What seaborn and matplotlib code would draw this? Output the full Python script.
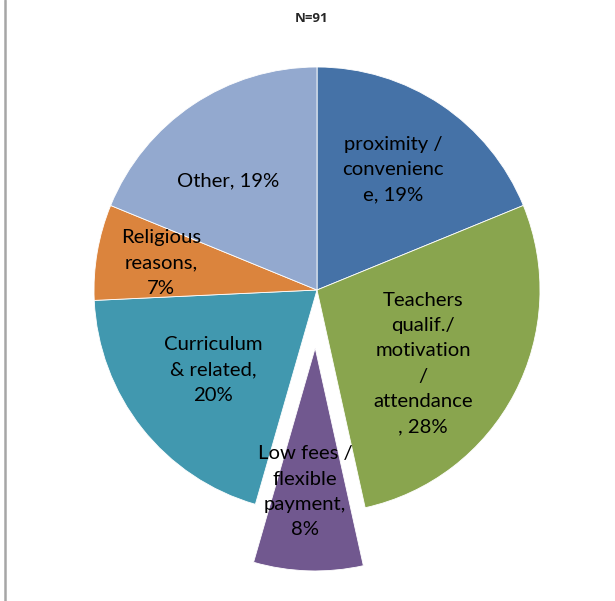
import matplotlib.pyplot as plt
import matplotlib.lines as mlines
import seaborn as sns

# Data
categories = ['proximity / convenience', 'Teachers qualif./ motivation / attendance',
              'Low fees / flexible payment', 'Curriculum & related',
              'Religious reasons', 'Other']
shares = [19, 28, 8, 20, 7, 19]
label_text = ['proximity /\nconvenienc\ne, 19%',
              'Teachers\nqualif./\nmotivation\n/\nattendance\n, 28%',
              'Low fees /\nflexible\npayment,\n8%',
              'Curriculum\n& related,\n20%',
              'Religious\nreasons,\n7%',
              'Other, 19%']
title = 'N=91'

sns.set_theme(style='white')
plt.rcParams['font.family'] = ['Lato', 'DejaVu Sans']

colors = sns.color_palette(['#4572A7', '#89A54E', '#71588F', '#4198AF', '#DB843D', '#93A9CF'])
explode = [0, 0, 0.26, 0, 0, 0]

# where each label sits, in units of the pie radius
label_pos = [(0.34, 0.54), (0.475, -0.33), (-0.054, -0.905),
             (-0.466, -0.36), (-0.70, 0.12), (-0.40, 0.49)]

fig = plt.figure(figsize=(6.15, 6.01), dpi=100)
ax = fig.add_axes([0, 0, 1, 1])
wedges, _ = ax.pie(shares, colors=colors, startangle=90, counterclock=False,
                   explode=explode, radius=1,
                   wedgeprops=dict(edgecolor='white', linewidth=0.6))
for txt, (x, y) in zip(label_text, label_pos):
    ax.text(x, y, txt, ha='center', va='center', fontsize=14.6,
            linespacing=1.6, color='black')

ax.set_xlim(-317 / 223, (615 - 317) / 223)
ax.set_ylim(-(601 - 290) / 223, 290 / 223)
ax.set_aspect('auto')
ax.axis('off')

fig.text(312 / 615, 1 - 19 / 601, title, ha='center', va='center',
         fontsize=9.5, fontweight='bold', family='Open Sans')
fig.add_artist(mlines.Line2D([5 / 615, 5 / 615], [0, 1], color='#A6A6A6', lw=1.8))

fig.savefig('out.png', dpi=100)
